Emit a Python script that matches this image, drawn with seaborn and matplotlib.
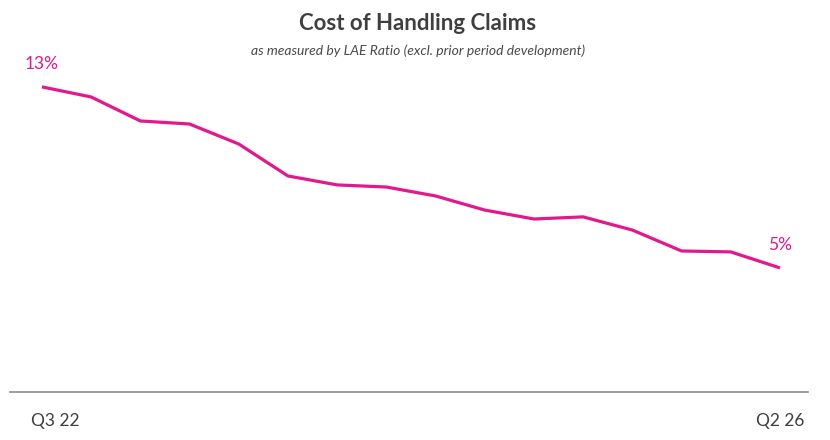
import numpy as np
import pandas as pd
import matplotlib
matplotlib.use('Agg')
import matplotlib.pyplot as plt
import matplotlib.transforms as mtransforms
import seaborn as sns

# quarterly LAE ratio (%)
quarters = ["Q3 22", "Q4 22", "Q1 23", "Q2 23", "Q3 23", "Q4 23", "Q1 24", "Q2 24",
            "Q3 24", "Q4 24", "Q1 25", "Q2 25", "Q3 25", "Q4 25", "Q1 26", "Q2 26"]
lae_ratio = [12.98, 12.55, 11.53, 11.40, 10.55, 9.19, 8.81, 8.72,
             8.34, 7.74, 7.36, 7.45, 6.89, 6.00, 5.96, 5.28]
end_labels = ["13%", "5%"]

pink = "#E3188C"
dark = "#3F3F3F"

df = pd.DataFrame({"quarter": quarters, "lae": lae_ratio})
df["idx"] = np.arange(len(df))

sns.set_theme(style="white")
plt.rcParams['font.family'] = ['Lato', 'DejaVu Sans']

fig = plt.figure(figsize=(8.3, 4.4), dpi=100)
ax = fig.add_axes([0.012, 0.109, 0.9615, 0.755])

sns.lineplot(data=df, x="idx", y="lae", ax=ax, color=pink, linewidth=2.3)
for ln in ax.get_lines():
    ln.set_solid_joinstyle('round')
    ln.set_solid_capstyle('butt')

ax.set_xlim(-0.65, 15.57)
ax.set_ylim(0, 14.13)

# end point labels
ax.annotate(end_labels[0], (df["idx"].iloc[0], df["lae"].iloc[0]), xytext=(0, 16.5),
            textcoords="offset points", ha="center", va="center", color=pink, fontsize=12.5)
ax.annotate(end_labels[1], (df["idx"].iloc[-1], df["lae"].iloc[-1]), xytext=(0, 16.5),
            textcoords="offset points", ha="center", va="center", color=pink, fontsize=12.5)

ax.set_xticks([df["idx"].iloc[0], df["idx"].iloc[-1]], [quarters[0], quarters[-1]])
ax.set_yticks([])
ax.tick_params(axis="x", length=0, pad=15, labelsize=12.5, labelcolor=dark)
lbls = ax.get_xticklabels()
lbls[0].set_transform(lbls[0].get_transform() + mtransforms.ScaledTranslation(13/100, 0, fig.dpi_scale_trans))
ax.set_xlabel("")
ax.set_ylabel("")

sns.despine(ax=ax, left=True)
ax.spines["bottom"].set_color("#8C8C8C")
ax.spines["bottom"].set_linewidth(1.2)

fig.text(0.503, 0.947, "Cost of Handling Claims", ha="center", va="center",
         fontsize=16, fontweight="bold", color=dark)
fig.text(0.504, 0.885, "as measured by LAE Ratio (excl. prior period development)", ha="center",
         va="center", fontsize=10, fontstyle="italic", color="#4A4A4A")

plt.savefig("out.png", dpi=100)
